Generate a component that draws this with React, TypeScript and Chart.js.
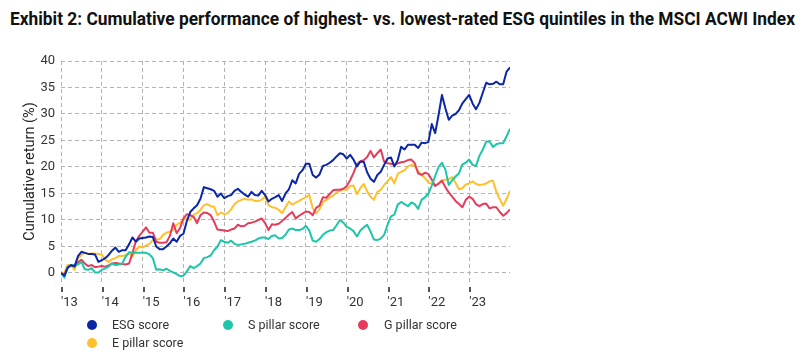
import React, { useEffect, useLayoutEffect, useRef } from "react";
import { Chart, registerables } from "chart.js";

Chart.register(...registerables);

const TITLE =
  "Exhibit 2: Cumulative performance of highest- vs. lowest-rated ESG quintiles in the MSCI ACWI Index";
const Y_TITLE = "Cumulative return (%)";
const START_YEAR = 2013;
const YEAR_TICKS = [2013, 2014, 2015, 2016, 2017, 2018, 2019, 2020, 2021, 2022, 2023];
const Y_TICKS = [0, 5, 10, 15, 20, 25, 30, 35, 40];
const SERIES_NAMES = ["ESG score", "S pillar score", "G pillar score", "E pillar score"];

// Monthly cumulative returns (%), Jan 2013 .. Jan 2024
const esgScore = [
  0, -0.5, 1.0, 1.5, 1.2, 3.2, 4.0, 3.8, 3.6, 3.6, 3.5, 2.1,
  2.4, 2.8, 3.4, 4.2, 4.8, 4.0, 4.3, 4.3, 5.4, 6.7, 5.9, 6.5,
  6.6, 6.7, 6.9, 6.8, 5.0, 4.5, 4.5, 5.0, 5.6, 6.5, 5.9, 7.0,
  7.4, 9.8, 11.5, 12.2, 12.8, 14.0, 16.2, 16.0, 15.8, 15.5, 14.4, 15.0,
  14.1, 14.5, 14.7, 15.5, 15.9, 15.3, 14.8, 14.4, 15.3, 14.7, 14.6, 15.5,
  14.7, 13.5, 14.0, 14.3, 14.7, 13.6, 15.0, 15.8, 17.5, 16.9, 18.7, 19.4,
  20.6, 20.6, 18.5, 18.0, 18.6, 20.2, 20.4, 20.8, 21.3, 22.0, 22.6, 22.4,
  21.6, 22.3, 21.4, 20.1, 21.0, 21.0, 19.0, 17.8, 17.2, 18.5, 19.1, 20.4,
  21.6, 21.8, 20.1, 21.3, 23.8, 23.3, 24.2, 24.2, 24.2, 23.6, 24.6, 24.5,
  24.7, 28.1, 26.4, 29.8, 33.6, 31.1, 28.9, 29.7, 30.0, 30.7, 32.0, 32.8,
  33.6, 32.0, 30.9, 32.1, 34.0, 35.9, 35.6, 35.7, 36.1, 35.6, 35.6, 38.0, 38.8,
];

const sPillar = [
  0, -0.9, 1.2, 1.5, 1.4, 1.6, 2.1, 0.7, 0.6, 0.9, 0.1, 0.1,
  0.6, 0.9, 1.2, 1.8, 1.5, 1.6, 1.8, 3.1, 3.9, 3.8, 3.8, 3.8,
  3.8, 3.8, 3.5, 2.8, 0.6, 0.7, 0.5, 0.8, 0.4, 0.1, -0.2, -0.6,
  -0.5, 0.3, 1.3, 0.9, 1.3, 1.8, 2.8, 3.0, 3.3, 4.3, 5.0, 6.2,
  5.9, 5.7, 6.1, 5.5, 5.3, 5.4, 5.5, 5.7, 5.9, 6.1, 6.5, 6.7,
  6.7, 6.4, 7.0, 7.1, 6.5, 6.6, 7.2, 8.2, 8.4, 8.1, 8.1, 8.3,
  8.9, 8.0, 6.1, 5.9, 6.4, 7.2, 7.7, 8.0, 8.1, 9.0, 10.0, 9.5,
  8.7, 8.4, 7.9, 6.9, 8.0, 8.6, 9.1, 7.8, 6.3, 6.2, 6.5, 7.2,
  9.1, 10.7, 11.0, 12.9, 13.4, 13.0, 12.6, 13.3, 13.0, 12.1, 13.8, 14.3,
  15.0, 16.5, 18.3, 20.0, 20.8, 19.5, 16.6, 17.5, 18.2, 18.8, 20.5, 20.8,
  21.4, 20.4, 20.2, 22.1, 23.3, 24.8, 24.8, 23.8, 24.3, 24.5, 24.5, 25.8, 27.2,
];

const gPillar = [
  0, -0.4, 1.2, 1.3, 1.5, 2.0, 2.5, 1.8, 1.3, 1.5, 1.1, 1.2,
  1.3, 1.2, 1.4, 1.8, 1.9, 1.8, 1.7, 1.6, 1.8, 3.7, 6.0, 7.0,
  7.8, 8.6, 7.6, 7.6, 5.9, 5.7, 5.7, 5.8, 7.0, 9.4, 7.5, 8.5,
  10.3, 11.1, 10.9, 10.6, 9.4, 10.9, 11.4, 11.3, 10.9, 9.7, 8.2, 8.1,
  8.0, 7.9, 8.2, 8.4, 9.1, 8.8, 8.9, 9.4, 9.5, 9.7, 10.0, 10.3,
  9.4, 8.1, 9.2, 9.1, 9.3, 9.8, 10.4, 11.0, 11.5, 10.3, 10.8, 11.2,
  11.6, 11.5, 10.9, 12.3, 12.7, 14.3, 14.2, 14.9, 15.6, 15.7, 15.7, 15.9,
  16.4, 17.5, 18.9, 20.5, 21.1, 21.3, 21.9, 23.0, 21.8, 22.6, 23.3, 21.0,
  20.7, 20.6, 20.4, 20.7, 20.9, 21.0, 21.3, 21.4, 20.7, 18.8, 18.5, 18.9,
  18.7, 17.6, 16.4, 16.9, 17.4, 16.2, 15.2, 14.4, 13.6, 13.0, 12.4, 13.8,
  14.4, 14.0, 13.0, 12.6, 13.0, 13.1, 12.2, 12.4, 12.4, 11.5, 10.8, 11.3, 12.0,
];

const ePillar = [
  0, 0.1, 1.5, 1.5, 0.6, 2.8, 3.4, 3.8, 3.6, 3.7, 3.7, 3.6,
  3.5, 2.5, 2.1, 2.6, 2.8, 3.2, 3.2, 3.4, 3.7, 3.1, 4.3, 5.0,
  4.8, 5.2, 5.5, 6.2, 6.3, 6.4, 7.2, 7.6, 7.8, 8.1, 9.1, 9.5,
  10.1, 10.3, 10.0, 11.0, 11.3, 11.9, 12.8, 13.0, 12.6, 12.5, 10.9, 11.4,
  11.1, 11.3, 12.0, 13.0, 13.5, 13.8, 14.0, 13.8, 13.9, 13.6, 13.6, 13.8,
  14.4, 12.8, 12.4, 12.3, 11.9, 11.3, 12.4, 13.5, 12.9, 13.3, 13.6, 14.0,
  14.3, 14.7, 12.2, 11.3, 12.0, 13.4, 13.8, 14.2, 14.6, 15.2, 15.5, 15.8,
  15.7, 16.4, 16.5, 14.9, 16.0, 16.8, 15.4, 14.4, 13.8, 15.3, 15.7, 16.6,
  17.3, 18.1, 16.9, 18.7, 19.1, 19.4, 20.1, 20.4, 20.2, 19.2, 18.5, 17.9,
  17.1, 16.8, 16.6, 16.8, 17.5, 17.6, 17.7, 18.1, 17.0, 15.8, 16.0, 16.7,
  16.9, 17.3, 16.8, 16.6, 16.7, 16.9, 17.3, 17.4, 15.3, 13.9, 12.7, 14.0, 15.5,
];

const COLORS = ["#0b26a6", "#1ec6a9", "#e63c5c", "#ffc12b"];
const SERIES_VALUES = [esgScore, sPillar, gPillar, ePillar];

const FONT = "Roboto, 'Liberation Sans', Arial, sans-serif";
const TEXT_COLOR = "#333333";
const GRID_COLOR = "#b4b4b4";

// Legend layout (position of each legend item: dot centre x, row y, label left x)
const LEGEND_LAYOUT = [
  { dot: 92, y: 325, text: 112 },
  { dot: 228, y: 325, text: 248 },
  { dot: 363, y: 325, text: 384 },
  { dot: 92, y: 343, text: 112 },
];

const tickMarks = {
  id: "tickMarks",
  afterDraw(chart: any) {
    const ctx = chart.ctx;
    const x = chart.scales.x;
    const b = Math.round(chart.chartArea.bottom);
    ctx.save();
    ctx.fillStyle = "#555555";
    for (const v of YEAR_TICKS) {
      const px = Math.round(x.getPixelForValue(v));
      ctx.fillRect(px, b + 5, 2, 5);
    }
    ctx.restore();
  },
};

export default function App() {
  const canvasRef = useRef<HTMLCanvasElement>(null);
  const titleRef = useRef<HTMLDivElement>(null);

  useLayoutEffect(() => {
    const el = titleRef.current;
    if (!el) return;
    el.style.transform = "none";
    const w = el.getBoundingClientRect().width;
    if (w > 0) el.style.transform = `scaleX(${785 / w})`;
  }, []);

  useEffect(() => {
    const canvas = canvasRef.current;
    if (!canvas) return;
    const xs = esgScore.map((_, i) => START_YEAR + i / 12);
    const datasets = SERIES_NAMES.map((name, k) => ({
      label: name,
      data: SERIES_VALUES[k].map((v, i) => ({ x: xs[i], y: v })),
      borderColor: COLORS[k],
      backgroundColor: COLORS[k],
      borderWidth: 2,
      pointRadius: 0,
      tension: 0,
      fill: false,
      borderJoinStyle: "round" as const,
    }));

    const gridOpts = {
      display: true,
      drawOnChartArea: true,
      drawTicks: false,
      color: GRID_COLOR,
      lineWidth: 1,
    };
    const borderOpts = { display: false, dash: [4, 3], dashOffset: 0 };

    const chart = new Chart(canvas, {
      type: "line",
      data: { datasets },
      options: {
        animation: false,
        responsive: false,
        maintainAspectRatio: false,
        layout: { padding: { left: 18, top: 61, right: 293, bottom: 0 } },
        plugins: { legend: { display: false }, tooltip: { enabled: false } },
        scales: {
          x: {
            type: "linear",
            min: 2013,
            max: 2024,
            afterBuildTicks: (s: any) => {
              s.ticks = YEAR_TICKS.map((v) => ({ value: v }));
            },
            afterFit: (s: any) => {
              s.height = 74;
            },
            ticks: {
              align: "start",
              autoSkip: false,
              maxRotation: 0,
              padding: 13,
              color: TEXT_COLOR,
              font: { family: FONT, size: 13 },
              callback: (v: any) => "'" + String(v).slice(2),
            },
            grid: gridOpts,
            border: borderOpts,
          },
          y: {
            min: -1.7,
            max: 40,
            afterBuildTicks: (s: any) => {
              s.ticks = Y_TICKS.map((v) => ({ value: v }));
            },
            afterFit: (s: any) => {
              s.width = 43;
            },
            ticks: {
              padding: 6,
              color: TEXT_COLOR,
              font: { family: FONT, size: 13 },
            },
            title: {
              display: true,
              text: Y_TITLE,
              color: "#222222",
              font: { family: FONT, size: 14.5 },
              padding: { top: 4, bottom: 0 },
            },
            grid: gridOpts,
            border: borderOpts,
          },
        },
      },
      plugins: [tickMarks],
    });
    return () => chart.destroy();
  }, []);

  return (
    <div
      style={{
        position: "absolute",
        left: 0,
        top: 0,
        width: 803,
        height: 356,
        background: "#ffffff",
        overflow: "hidden",
        fontFamily: FONT,
      }}
    >
      <div
        ref={titleRef}
        style={{
          position: "absolute",
          left: 10,
          top: 8,
          fontWeight: 700,
          fontSize: 19,
          lineHeight: "22px",
          color: "#111111",
          whiteSpace: "nowrap",
          transformOrigin: "left top",
          display: "inline-block",
        }}
      >
        {TITLE}
      </div>
      <canvas
        ref={canvasRef}
        width={803}
        height={356}
        style={{ position: "absolute", left: 0, top: 0, width: 803, height: 356 }}
      />
      {SERIES_NAMES.map((name, k) => (
        <React.Fragment key={name}>
          <div
            style={{
              position: "absolute",
              left: LEGEND_LAYOUT[k].dot - 5,
              top: LEGEND_LAYOUT[k].y - 5,
              width: 10,
              height: 10,
              borderRadius: "50%",
              background: COLORS[k],
            }}
          />
          <div
            style={{
              position: "absolute",
              left: LEGEND_LAYOUT[k].text,
              top: LEGEND_LAYOUT[k].y - 8,
              lineHeight: "16px",
              fontSize: 12.5,
              color: TEXT_COLOR,
              whiteSpace: "nowrap",
            }}
          >
            {name}
          </div>
        </React.Fragment>
      ))}
    </div>
  );
}
